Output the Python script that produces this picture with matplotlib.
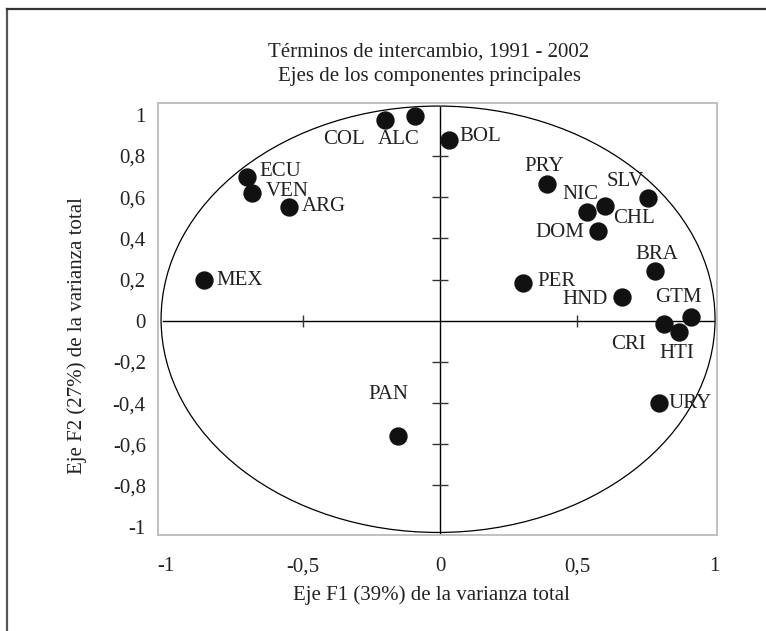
import matplotlib
matplotlib.use('Agg')
import matplotlib.pyplot as plt
from matplotlib.patches import Ellipse
from matplotlib.lines import Line2D

# Terminos de intercambio - componentes principales (F1, F2)
countries = ['COL', 'ALC', 'ECU', 'VEN', 'ARG', 'MEX', 'BOL', 'PRY', 'NIC', 'CHL',
             'SLV', 'DOM', 'BRA', 'PER', 'HND', 'GTM', 'CRI', 'HTI', 'URY', 'PAN']
f1 = [-0.200, -0.091, -0.705, -0.687, -0.551, -0.860, 0.032, 0.389, 0.538, 0.602,
      0.760, 0.578, 0.785, 0.304, 0.663, 0.915, 0.818, 0.873, 0.800, -0.153]
f2 = [0.975, 0.996, 0.697, 0.619, 0.554, 0.198, 0.878, 0.664, 0.528, 0.557,
      0.598, 0.436, 0.243, 0.185, 0.117, 0.019, -0.016, -0.053, -0.401, -0.560]

xticks = [-1, -0.5, 0, 0.5, 1]
xticklabels = ['-1', '-0,5', '0', '0,5', '1']
yticks = [-1, -0.8, -0.6, -0.4, -0.2, 0, 0.2, 0.4, 0.6, 0.8, 1]
yticklabels = ['-1', '-0,8', '-0,6', '-0,4', '-0,2', '0', '0,2', '0,4', '0,6', '0,8', '1']

# where each label sits relative to its dot (pixels) and its alignment
label_pos = {
    'COL': (-20, -20, 'right'), 'ALC': (-16, -24, 'center'),
    'ECU': (13, 6, 'left'), 'VEN': (14, 2, 'left'), 'ARG': (13, 0, 'left'),
    'MEX': (12, -1, 'left'), 'BOL': (11, 3, 'left'), 'PRY': (-2, 17, 'center'),
    'NIC': (-7, 17, 'center'), 'CHL': (8, -12, 'left'), 'SLV': (-23, 16, 'center'),
    'DOM': (-14, -2, 'right'), 'BRA': (2, 16, 'center'), 'PER': (14, 1, 'left'),
    'HND': (-14, -3, 'right'), 'GTM': (-12, 19, 'center'), 'CRI': (-36, -21, 'center'),
    'HTI': (-2, -22, 'center'), 'URY': (9, 0, 'left'), 'PAN': (-10, 41, 'center'),
}

plt.rcParams['font.family'] = ['Liberation Serif', 'DejaVu Serif']
plt.rcParams['font.size'] = 15

fig = plt.figure(figsize=(7.66, 6.31), dpi=100)
ax = fig.add_axes([0.2067, 0.1521, 0.7289, 0.6852])

# outer frame (only top and left visible)
fig.add_artist(Line2D([7 / 766, 7 / 766], [0, 1 - 9 / 631], transform=fig.transFigure,
                      color='#555555', lw=1.6))
fig.add_artist(Line2D([7 / 766, 1], [1 - 9 / 631, 1 - 9 / 631], transform=fig.transFigure,
                      color='#333333', lw=1.6))

ax.add_patch(Ellipse((-0.007, 0.007), 2.022, 2.071, fill=False, color='black', lw=0.9))
ax.plot([-1.01, 1.0], [0, 0], color='black', lw=1.0)
ax.plot([0, 0], [-1.035, 1.04], color='black', lw=1.0)
# small ticks on the cross
ax.plot([-0.5, 0.5], [0, 0], ls='none', marker='|', ms=8, mew=1.0, color='#333333')
ax.plot([0] * 8, [-0.8, -0.6, -0.4, -0.2, 0.2, 0.4, 0.6, 0.8], ls='none', marker='_',
        ms=12, mew=1.0, color='#333333')

ax.plot(f1, f2, ls='none', marker='o', ms=12.2, color='#111111', zorder=5)
for name, x, y in zip(countries, f1, f2):
    dx, dy, ha = label_pos[name]
    ax.annotate(name, (x, y), xytext=(dx, dy), textcoords='offset pixels',
                ha=ha, va='center', fontsize=15, color='#222222')

ax.set_xlim(-1.028, 1.01)
ax.set_ylim(-1.041, 1.059)
ax.set_xticks(xticks)
ax.set_xticklabels(xticklabels)
ax.set_yticks(yticks)
ax.set_yticklabels(yticklabels)
ax.tick_params(length=0, labelsize=15, colors='#222222')
ax.tick_params(axis='x', pad=16)
ax.tick_params(axis='y', pad=9)
for s in ax.spines.values():
    s.set_color('#bbbbbb')
    s.set_linewidth(1.3)

fig.text(429 / 766, 1 - 52 / 631, 'Términos de intercambio, 1991 - 2002',
         ha='center', va='center', fontsize=15, color='#222222')
fig.text(429 / 766, 1 - 76 / 631, 'Ejes de los componentes principales',
         ha='center', va='center', fontsize=15, color='#222222')
fig.text(431 / 766, 1 - 595 / 631, 'Eje F1 (39%) de la varianza total',
         ha='center', va='center', fontsize=15, color='#222222')
fig.text(77 / 766, 1 - 336 / 631, 'Eje F2 (27%) de la varianza total',
         ha='center', va='center', rotation=90, fontsize=15, color='#222222')

fig.savefig('out.png', dpi=100)
